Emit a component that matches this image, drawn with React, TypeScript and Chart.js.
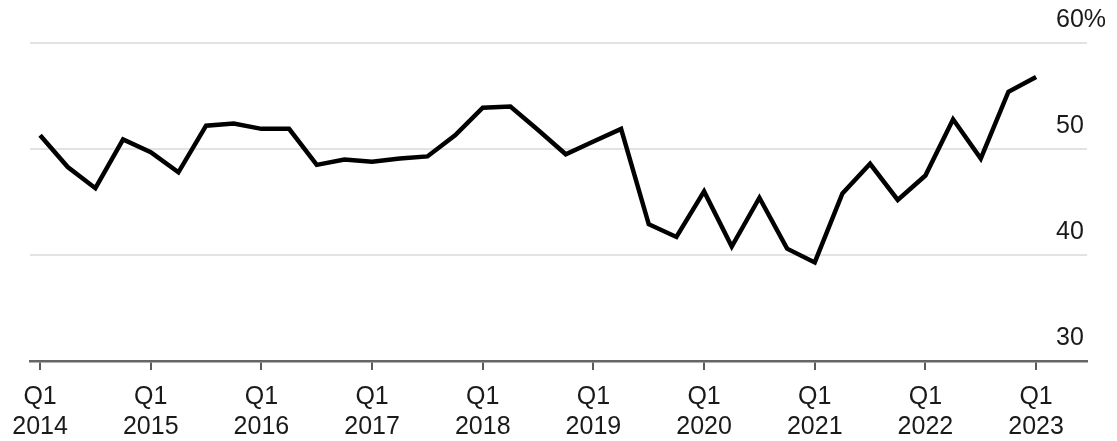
import { useEffect, useRef } from "react";
import { Chart, registerables } from "chart.js";

Chart.register(...registerables);

const quarters: string[] = [
  "Q1 2014", "Q2 2014", "Q3 2014", "Q4 2014",
  "Q1 2015", "Q2 2015", "Q3 2015", "Q4 2015",
  "Q1 2016", "Q2 2016", "Q3 2016", "Q4 2016",
  "Q1 2017", "Q2 2017", "Q3 2017", "Q4 2017",
  "Q1 2018", "Q2 2018", "Q3 2018", "Q4 2018",
  "Q1 2019", "Q2 2019", "Q3 2019", "Q4 2019",
  "Q1 2020", "Q2 2020", "Q3 2020", "Q4 2020",
  "Q1 2021", "Q2 2021", "Q3 2021", "Q4 2021",
  "Q1 2022", "Q2 2022", "Q3 2022", "Q4 2022",
  "Q1 2023",
];

const shareValues: number[] = [
  51.3, 48.3, 46.3, 50.9,
  49.7, 47.8, 52.2, 52.4,
  51.9, 51.9, 48.5, 49.0,
  48.8, 49.1, 49.3, 51.3,
  53.9, 54.0, 51.8, 49.5,
  50.7, 51.9, 42.9, 41.7,
  46.0, 40.8, 45.4, 40.6,
  39.3, 45.8, 48.6, 45.2,
  47.5, 52.8, 49.1, 55.4,
  56.8,
];

const yTickValues: number[] = [30, 40, 50, 60];
const yTickLabels: string[] = ["30", "40", "50", "60%"];

const FONT = "'Liberation Sans', Arial, Helvetica, sans-serif";

export default function App() {
  const canvasRef = useRef<HTMLCanvasElement | null>(null);

  useEffect(() => {
    document.body.style.margin = "0";
    const canvas = canvasRef.current;
    if (!canvas) return;

    const yLabelPlugin = {
      id: "yLabelPlugin",
      afterDraw(chart: any) {
        const { ctx, chartArea } = chart;
        const yScale = chart.scales.y;
        ctx.save();
        ctx.font = `25px ${FONT}`;
        ctx.fillStyle = "#1a1a1a";
        ctx.textAlign = "left";
        ctx.textBaseline = "alphabetic";
        yTickValues.forEach((v, i) => {
          const py = yScale.getPixelForValue(v);
          ctx.fillText(yTickLabels[i], chartArea.right - 31, py - 16);
        });
        ctx.restore();
      },
    };

    const chart = new Chart(canvas, {
      type: "line",
      data: {
        datasets: [
          {
            data: shareValues.map((v, i) => ({ x: i, y: v })),
            borderColor: "#000000",
            borderWidth: 4.5,
            pointRadius: 0,
            tension: 0,
            fill: false,
          },
        ],
      },
      options: {
        animation: false,
        responsive: false,
        maintainAspectRatio: false,
        layout: { padding: { left: 29, right: 30, top: 43, bottom: 0 } },
        plugins: {
          legend: { display: false },
          tooltip: { enabled: false },
        },
        scales: {
          x: {
            type: "linear",
            min: -0.36,
            max: 37.84,
            afterBuildTicks: (scale: any) => {
              scale.ticks = quarters
                .map((q, i) => ({ value: i, q }))
                .filter((t) => t.q.startsWith("Q1"))
                .map((t) => ({ value: t.value }));
            },
            afterFit: (scale: any) => {
              scale.height = 80;
            },
            grid: {
              drawOnChartArea: false,
              drawTicks: true,
              tickLength: 9,
              color: "#5a5a5a",
              lineWidth: 2,
            },
            border: { display: true, color: "#666666", width: 2.5 },
            ticks: {
              autoSkip: false,
              maxRotation: 0,
              padding: 12,
              color: "#1a1a1a",
              font: { family: FONT, size: 25, lineHeight: "30px" as any },
              callback: (value: any) => {
                const q = quarters[Number(value)];
                return q ? q.split(" ") : "";
              },
            },
          },
          y: {
            type: "linear",
            min: 30,
            max: 60,
            afterBuildTicks: (scale: any) => {
              scale.ticks = yTickValues.map((v) => ({ value: v }));
            },
            grid: { color: "#e3e3e3", lineWidth: 2, drawTicks: false },
            border: { display: false },
            ticks: { display: false },
          },
        },
      },
      plugins: [yLabelPlugin],
    });

    return () => {
      chart.destroy();
    };
  }, []);

  return (
    <div style={{ width: 1117, height: 441, background: "#ffffff" }}>
      <canvas ref={canvasRef} width={1117} height={441} style={{ width: 1117, height: 441, display: "block" }} />
    </div>
  );
}
